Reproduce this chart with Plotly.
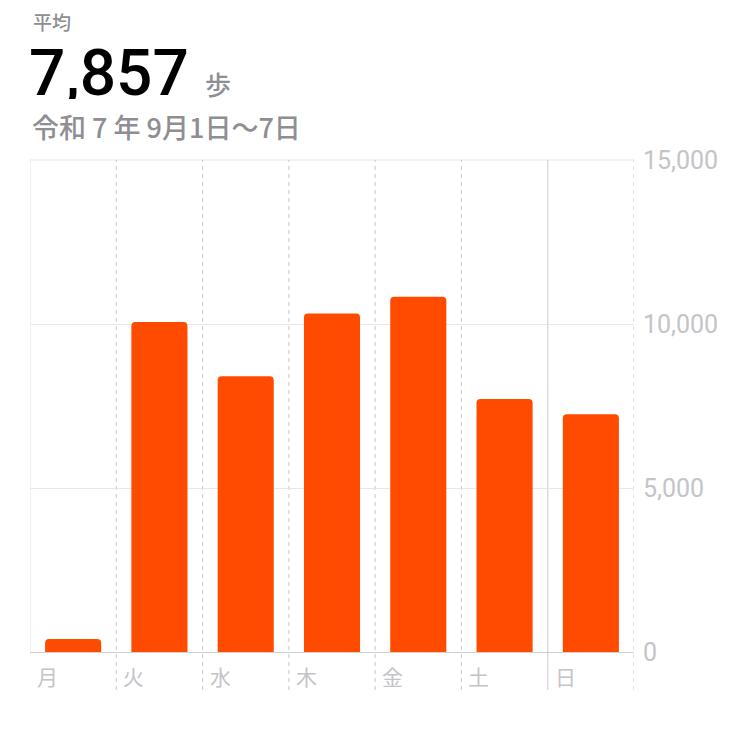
import plotly.graph_objects as go

days = ['月', '火', '水', '木', '金', '土', '日']
steps = [400, 10060, 8410, 10320, 10830, 7710, 7250]
y_ticks = [0, 5000, 10000, 15000]
avg_steps = 7857
period = '令和 7 年 9月1日〜7日'

BAR = '#FF4B00'
GRID = '#E8E8E8'
LABEL = '#C4C4C8'
SUB = '#8E8E93'
FONT = 'Noto Sans CJK JP'

# page body adds 8px, so the figure is a bit smaller than the window
W, H = 732, 728
L, R, T, B = 22, 106, 152, 84
plot_h = H - T - B
OFF = 8


def py(px):
    # screen pixel row -> paper y
    return (H - B + OFF - px) / plot_h


fig = go.Figure(
    go.Bar(
        x=list(range(len(days))), y=steps, width=0.65,
        marker=dict(color=BAR, cornerradius=4, line_width=0),
        hoverinfo='skip',
    )
)

shapes = []
# left border + top line
shapes.append(dict(type='line', xref='x', yref='paper', x0=-0.5, x1=-0.5,
                   y0=0, y1=1, line=dict(color=GRID, width=1.2), layer='below'))
shapes.append(dict(type='line', xref='x', yref='paper', x0=-0.5, x1=len(days) - 0.5,
                   y0=1, y1=1, line=dict(color=GRID, width=1.2), layer='below'))
for i in range(len(days)):
    xb = i + 0.5
    solid = i == len(days) - 2
    shapes.append(dict(
        type='line', xref='x', yref='paper', x0=xb, x1=xb,
        y0=py(690), y1=1,
        line=dict(color='#D4D4D4' if solid else '#D0D0D0', width=1.2,
                  dash='solid' if solid else '4px,4px'),
        layer='below',
    ))

annotations = []
for i, d in enumerate(days):
    annotations.append(dict(
        x=i - 0.5, xref='x', y=py(676), yref='paper', text=d,
        xanchor='left', yanchor='middle', xshift=5, showarrow=False,
        font=dict(size=21, color=LABEL, family=FONT),
    ))

annotations += [
    dict(x=0, xref='paper', xshift=1, y=py(21), yref='paper', text='平均',
         xanchor='left', yanchor='middle', showarrow=False,
         font=dict(size=19, color=SUB, family=FONT, weight=500)),
    dict(x=0, xref='paper', xshift=-2, y=py(73), yref='paper',
         text=f'{avg_steps:,}', xanchor='left', yanchor='middle', showarrow=False,
         height=52, valign='middle', borderpad=0,
         font=dict(size=64, color='#000000', family='Roboto', weight=500)),
    dict(x=0, xref='paper', xshift=173, y=py(84), yref='paper', text='歩',
         xanchor='left', yanchor='middle', showarrow=False,
         font=dict(size=26, color=SUB, family=FONT, weight=500)),
    dict(x=0, xref='paper', xshift=0, y=py(127), yref='paper', text=period,
         xanchor='left', yanchor='middle', showarrow=False,
         font=dict(size=27, color=SUB, family=FONT, weight=500)),
]

fig.update_layout(
    width=W, height=H,
    margin=dict(l=L, r=R, t=T, b=B),
    paper_bgcolor='white', plot_bgcolor='white',
    showlegend=False,
    bargap=0.35,
    shapes=shapes,
    annotations=annotations,
    xaxis=dict(
        range=[-0.5, len(days) - 0.5], showticklabels=False, showgrid=False,
        zeroline=False, showline=True, linecolor='#D0D0D0', linewidth=1.2,
        fixedrange=True,
    ),
    yaxis=dict(
        side='right', range=[0, 15000], tickvals=y_ticks,
        ticktext=[f'{v:,}' for v in y_ticks], ticks='', ticklabelstandoff=8,
        tickfont=dict(size=25, color=LABEL, family='Roboto'),
        showgrid=True, gridcolor=GRID, gridwidth=1.2, zeroline=False,
        showline=False, fixedrange=True,
    ),
)

fig.write_html('out.html')
